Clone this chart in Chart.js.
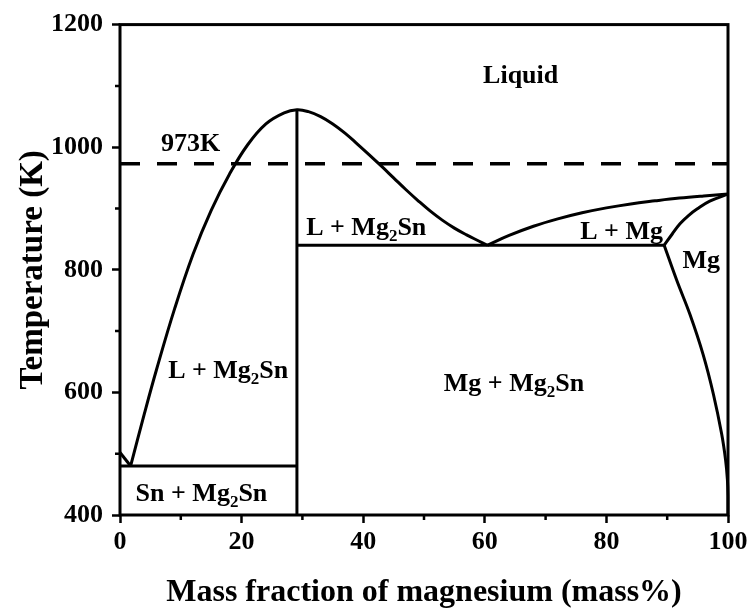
<!DOCTYPE html>
<html>
<head>
<meta charset="utf-8">
<title>Mg-Sn phase diagram</title>
<script src="https://cdn.jsdelivr.net/npm/chart.js@4.4.1/dist/chart.umd.min.js"></script>
<style>
  html, body { margin: 0; padding: 0; background: #fff; }
  #wrap { width: 753px; height: 612px; }
</style>
</head>
<body>
<div id="wrap"><canvas id="diagram" width="753" height="612"></canvas></div>
<script>
// phase boundaries, [mass% Mg, temperature K]
var snLiquidus = [[0, 502], [1.75, 480]];
var mg2snLiquidus = [[1.75, 480], [4, 565], [6, 637], [9, 737], [12, 825], [15, 897], [18, 956],
    [21, 1004], [24, 1038], [27, 1056], [29.1, 1061], [31, 1058], [33, 1050], [35, 1038],
    [37, 1023], [39, 1005.5], [41, 987.5], [43, 969], [45, 950], [47, 931], [49, 913], [51, 896],
    [53, 881], [55, 868], [57, 857], [59, 847], [60.4, 840]];
var mgLiquidus = [[60.4, 840], [64, 856], [68, 871], [72, 883], [76, 893], [80, 901],
    [84, 907.5], [88, 912.5], [92, 917], [96, 920.5], [100, 923.5]];
var mgSolidus = [[89.5, 840], [90.8, 858], [92.1, 875], [93.5, 888.5], [94.9, 899],
    [97, 912], [100, 923.5]];
var mgSolvus = [[89.5, 840], [91.6, 782], [93.75, 727], [95.9, 662], [97.6, 597], [98.96, 532],
    [99.6, 490], [99.9, 458], [100, 430], [100, 400]];
var eutecticSn = [[0, 480], [29.1, 480]];
var eutecticMg = [[29.1, 840], [89.5, 840]];
var compoundMg2Sn = [[29.1, 400], [29.1, 1061]];
var isotherm973 = [[0, 973], [100, 973]];

var xTicks = [0, 20, 40, 60, 80, 100];
var yTicks = [400, 600, 800, 1000, 1200];

// region names; "_2" marks a subscript 2
var regionLabels = [
    { text: 'Liquid', x: 65.9, y: 1105 },
    { text: '973K', x: 11.6, y: 994 },
    { text: 'L + Mg_2Sn', x: 40.5, y: 857 },
    { text: 'L + Mg', x: 82.5, y: 850 },
    { text: 'Mg', x: 95.6, y: 803 },
    { text: 'L + Mg_2Sn', x: 17.8, y: 623 },
    { text: 'Mg + Mg_2Sn', x: 64.8, y: 602 },
    { text: 'Sn + Mg_2Sn', x: 13.4, y: 423 }
];

var FONT = '"Liberation Serif", "Times New Roman", serif';

function toPoints(arr) {
    return arr.map(function (p) { return { x: p[0], y: p[1] }; });
}

function line(arr, smooth, dash) {
    return {
        data: toPoints(arr),
        showLine: true,
        borderColor: '#000',
        borderWidth: dash ? 3.5 : 3,
        borderDash: dash || [],
        pointRadius: 0,
        tension: smooth ? 0.4 : 0,
        clip: false
    };
}

function drawRich(ctx, text, cx, baseY) {
    var parts = text.split('_');
    var segs = [];
    parts.forEach(function (p, i) {
        if (i === 0) { segs.push({ t: p, sub: false }); return; }
        segs.push({ t: p.charAt(0), sub: true });
        if (p.length > 1) segs.push({ t: p.slice(1), sub: false });
    });
    var w = 0;
    segs.forEach(function (s) {
        ctx.font = 'bold ' + (s.sub ? 17 : 26) + 'px ' + FONT;
        s.w = ctx.measureText(s.t).width;
        w += s.w;
    });
    var x = cx - w / 2;
    ctx.textAlign = 'left';
    ctx.textBaseline = 'alphabetic';
    segs.forEach(function (s) {
        ctx.font = 'bold ' + (s.sub ? 17 : 26) + 'px ' + FONT;
        ctx.fillText(s.t, x, s.sub ? baseY + 6 : baseY);
        x += s.w;
    });
}

var framePlugin = {
    id: 'frame',
    afterDatasetsDraw: function (chart) {
        var ctx = chart.ctx, a = chart.chartArea;
        var xs = chart.scales.x, ys = chart.scales.y;
        ctx.save();
        ctx.strokeStyle = '#000';
        ctx.fillStyle = '#000';
        ctx.lineWidth = 3;
        ctx.strokeRect(a.left, a.top, a.right - a.left, a.bottom - a.top);

        // minor ticks
        ctx.lineWidth = 2.5;
        ctx.beginPath();
        for (var v = 10; v < 100; v += 20) {
            var px = xs.getPixelForValue(v);
            ctx.moveTo(px, a.bottom);
            ctx.lineTo(px, a.bottom + 5);
        }
        for (var t = 500; t < 1200; t += 200) {
            var py = ys.getPixelForValue(t);
            ctx.moveTo(a.left, py);
            ctx.lineTo(a.left - 5, py);
        }
        ctx.stroke();

        regionLabels.forEach(function (l) {
            drawRich(ctx, l.text, xs.getPixelForValue(l.x), ys.getPixelForValue(l.y));
        });
        ctx.restore();
    }
};

function plainLabel(value) { return String(value); }

var ctx = document.getElementById('diagram').getContext('2d');
var chart = new Chart(ctx, {
    type: 'scatter',
    data: {
        datasets: [
            line(isotherm973, false, [20, 17]),
            line(snLiquidus, false),
            line(mg2snLiquidus, true),
            line(mgLiquidus, true),
            line(mgSolidus, true),
            line(mgSolvus, true),
            line(eutecticSn, false),
            line(eutecticMg, false),
            line(compoundMg2Sn, false)
        ]
    },
    options: {
        responsive: false,
        animation: false,
        devicePixelRatio: 1,
        layout: { padding: { top: 24, right: 25, left: 0, bottom: 0 } },
        plugins: {
            legend: { display: false },
            tooltip: { enabled: false }
        },
        scales: {
            x: {
                type: 'linear',
                min: 0,
                max: 100,
                afterBuildTicks: function (scale) {
                    scale.ticks = xTicks.map(function (v) { return { value: v }; });
                },
                afterFit: function (scale) { scale.height = 97; },
                grid: { drawOnChartArea: false, drawTicks: true, tickLength: 8, tickWidth: 2.5, tickColor: '#000' },
                border: { display: false },
                ticks: { color: '#000', padding: 4, maxRotation: 0, callback: plainLabel,
                    font: { family: FONT, size: 26, weight: 'bold' } },
                title: {
                    display: true,
                    text: 'Mass fraction of magnesium (mass%)',
                    color: '#000',
                    padding: { top: 2, bottom: 0 },
                    font: { family: FONT, size: 32, weight: 'bold' }
                }
            },
            y: {
                type: 'linear',
                min: 400,
                max: 1200,
                afterBuildTicks: function (scale) {
                    scale.ticks = yTicks.map(function (v) { return { value: v }; });
                },
                afterFit: function (scale) { scale.width = 120; },
                grid: { drawOnChartArea: false, drawTicks: true, tickLength: 8, tickWidth: 2.5, tickColor: '#000' },
                border: { display: false },
                ticks: { color: '#000', padding: 9, callback: plainLabel,
                    font: { family: FONT, size: 26, weight: 'bold' } },
                title: {
                    display: true,
                    text: 'Temperature (K)',
                    color: '#000',
                    padding: { top: 14, bottom: 0 },
                    font: { family: FONT, size: 33, weight: 'bold' }
                }
            }
        }
    },
    plugins: [framePlugin]
});
</script>
</body>
</html>
